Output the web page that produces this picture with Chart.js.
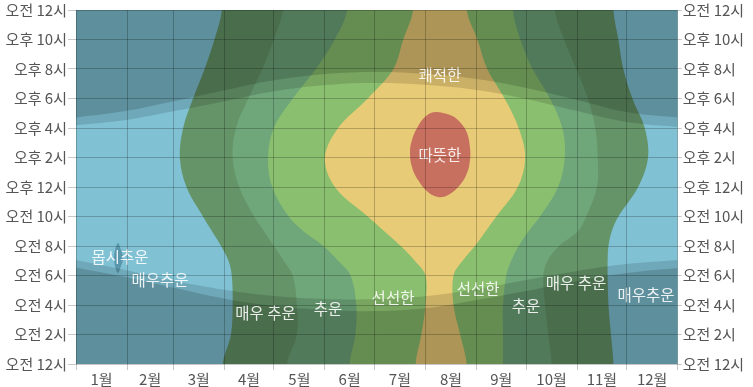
<!DOCTYPE html>
<html><head><meta charset="utf-8">
<style>html,body{margin:0;padding:0;background:#fff}</style>
<script src="https://cdn.jsdelivr.net/npm/chart.js@4/dist/chart.umd.min.js"></script>
</head><body>
<canvas id="c" width="753" height="387"></canvas>
<script>
// ---- axes ----
const months = ['1월','2월','3월','4월','5월','6월','7월','8월','9월','10월','11월','12월'];
const monthStartDays = [0,31,59,90,120,151,181,212,243,273,304,334,365];
const monthMidDays = [15.5,45,74.5,105,135.5,166,196.5,227.5,258,288.5,319,349.5];
const hourTicks = [0,2,4,6,8,10,12,14,16,18,20,22,24];
const hourLabels = ['오전 12시','오전 2시','오전 4시','오전 6시','오전 8시','오전 10시','오후 12시','오후 2시','오후 4시','오후 6시','오후 8시','오후 10시','오전 12시'];

// ---- temperature band edges (day of year) at each hour ----
const bandHours = [0,2,4,6,7,8,9,10,12,14,16,18,20,22,24];
const darkGreenLeft   = [89,94,95,94.5,92.5,88,82.5,77,67,63,65,71,78,84,88.5];
const darkGreenRight  = [326,324.5,323,322.5,322.5,323,325,329,341,347,345,337.5,332,329,326];
const midGreenLeft    = [128,134,134,131.5,126,120,114,108,99,95,97,104.5,113,120,125.5];
const midGreenRight   = [288.5,286.5,284.5,283.5,286,293,304.5,309.5,316,316.5,315,310.5,303.5,296,290.5];
const lightGreenLeft  = [166,169.5,170,166.5,159,150,138,129,119,116.5,120,131.5,145.5,157,164.5];
const lightGreenRight = [259,259,259,261,264,268.5,274.5,281.5,292.5,296.5,295,287.5,277,269.5,265];
const yellowLeft      = [206,209.5,212,212,205.5,197,187,177,157,151,159,177,192.5,198.5,204.5];
const yellowRight     = [237,233,229,229,234.5,242,248.5,255,268,272.5,268.5,260,249.5,243.5,237];

// warm (red) patch outline
const warmDays  = [217.8,226.9,232.9,237.2,239,239,237.2,232.9,225.7,219.6,213.5,207.5,203.8,202.6,203.8,206.9,211.7];
const warmHours = [17.08,16.88,16.41,15.66,14.64,13.83,12.95,12.14,11.46,11.32,11.66,12.47,13.36,14.37,15.19,16,16.75];
// frigid spot outline
const frigidDays  = [25.5,27.3,28.5,27.3,25.5,23.7,23.05,23.7];
const frigidHours = [8.2,7.73,7.19,6.64,6.17,6.64,7.19,7.73];

// ---- daylight ----
const sunDays      = [0,30,60,91,121,152,182,213,243,273,304,334,365];
const sunsetHours  = [16.18,16.54,17.15,17.83,18.51,18.92,19.05,18.92,18.58,17.97,17.15,16.41,16.07];
const duskHours    = [16.71,17.15,17.83,18.58,19.25,19.66,19.80,19.66,19.32,18.71,17.90,17.08,16.71];
const sunriseHours = [7.05,6.37,5.63,5.02,4.61,4.41,4.41,4.61,5.08,5.69,6.31,6.78,7.05];
const dawnHours    = [6.53,5.90,5.15,4.41,3.93,3.66,3.59,3.80,4.34,4.95,5.63,6.17,6.51];

// ---- zone labels ----
const zoneLabelTexts = ['몹시추운','매우추운','매우 추운','추운','선선한','쾌적한','따뜻한','선선한','추운','매우 추운','매우추운'];
const zoneLabelDays  = [26.7,50.9,115,152.9,192.3,220.8,220.8,243.9,273,303.3,345.8];
const zoneLabelHours = [7.25,5.69,3.46,3.73,4.47,19.59,14.17,5.08,3.93,5.49,4.68];

const gridColor = 'rgba(0,0,0,0.22)';

function bandPolygon(left, right) {
  const pts = [{x: left[0], y: -3}];
  bandHours.forEach((h, i) => pts.push({x: left[i], y: h}));
  pts.push({x: left[left.length - 1], y: 27});
  pts.push({x: right[right.length - 1], y: 27});
  for (let i = bandHours.length - 1; i >= 0; i--) pts.push({x: right[i], y: bandHours[i]});
  pts.push({x: right[0], y: -3});
  return pts;
}
function loopPolygon(xs, ys) {
  const pts = xs.map((x, i) => ({x, y: ys[i]}));
  pts.push(pts[0], pts[1]);
  return pts;
}
function shapeSet(data, color, tension) {
  return {data, backgroundColor: color, borderColor: 'rgba(0,0,0,0)', borderWidth: 0,
    pointRadius: 0, pointHoverRadius: 0, fill: 'shape', tension, capBezierPoints: false};
}
function curveSet(hours, fill, color) {
  return {data: sunDays.map((d, i) => ({x: d, y: hours[i]})), backgroundColor: color,
    borderColor: 'rgba(0,0,0,0)', borderWidth: 0, pointRadius: 0, pointHoverRadius: 0,
    fill, tension: 0.4, capBezierPoints: false};
}

const layers = [
  shapeSet([{x:-20,y:-5},{x:385,y:-5},{x:385,y:29},{x:-20,y:29}], '#80C1D4', 0),
  shapeSet(bandPolygon(darkGreenLeft, darkGreenRight), '#659468', 0.35),
  shapeSet(bandPolygon(midGreenLeft, midGreenRight), '#6FA67A', 0.35),
  shapeSet(bandPolygon(lightGreenLeft, lightGreenRight), '#8ABF6F', 0.35),
  shapeSet(bandPolygon(yellowLeft, yellowRight), '#E8CB76', 0.35),
  shapeSet(loopPolygon(warmDays, warmHours), '#C8705F', 0.4),
  shapeSet(loopPolygon(frigidDays, frigidHours), '#5A97AD', 0.4),
  curveSet(sunsetHours, 'end', 'rgba(0,0,0,0.13)'),
  curveSet(duskHours, 'end', 'rgba(0,0,0,0.15)'),
  curveSet(sunriseHours, 'start', 'rgba(0,0,0,0.13)'),
  curveSet(dawnHours, 'start', 'rgba(0,0,0,0.15)')
];
const datasets = layers.slice().reverse();

const zoneLabelPlugin = {
  id: 'zoneLabels',
  afterDatasetsDraw(chart) {
    const {ctx, scales: {x, y}} = chart;
    ctx.save();
    ctx.font = '15.5px "Noto Sans CJK KR", sans-serif';
    ctx.fillStyle = 'rgba(255,255,255,0.88)';
    ctx.textAlign = 'center';
    ctx.textBaseline = 'middle';
    zoneLabelTexts.forEach((t, i) => {
      ctx.fillText(t, x.getPixelForValue(zoneLabelDays[i]), y.getPixelForValue(zoneLabelHours[i]));
    });
    ctx.restore();
  }
};

Chart.defaults.font.family = '"Noto Sans CJK KR", "Noto Sans", sans-serif';
Chart.defaults.font.size = 15;

const xTicks = monthStartDays.concat(monthMidDays).sort((a, b) => a - b);
const hourAxis = (pos, tickLen, pad, width) => ({
  type: 'linear', position: pos, min: 0, max: 24,
  afterBuildTicks: s => { s.ticks = hourTicks.map(v => ({value: v})); },
  grid: {z: 1, color: gridColor, tickLength: tickLen, drawOnChartArea: pos === 'left'},
  border: {display: false},
  ticks: {color: '#555', padding: pad, autoSkip: false, callback: (v) => hourLabels[hourTicks.indexOf(v)]},
  afterFit: s => { s.width = width; }
});

new Chart(document.getElementById('c'), {
  type: 'line',
  data: {datasets},
  options: {
    responsive: false, animation: false, devicePixelRatio: 1,
    layout: {padding: {top: 10, left: 0, right: 0, bottom: 0}},
    plugins: {legend: {display: false}, tooltip: {enabled: false}},
    events: [],
    scales: {
      x: {
        type: 'linear', min: 0, max: 365,
        afterBuildTicks: s => { s.ticks = xTicks.map(v => ({value: v})); },
        grid: {z: 1, tickLength: 6,
          color: c => (c.tick && monthStartDays.includes(c.tick.value)) ? gridColor : 'rgba(0,0,0,0)'},
        border: {display: false},
        ticks: {color: '#555', padding: 0, autoSkip: false, maxRotation: 0,
          callback: v => { const j = monthMidDays.indexOf(v); return j >= 0 ? months[j] : ''; }},
        afterFit: s => { s.height = 23; }
      },
      y: hourAxis('left', 8, 1, 76),
      y2: hourAxis('right', 4, 1, 75.3)
    }
  },
  plugins: [zoneLabelPlugin]
});
</script>
</body></html>
